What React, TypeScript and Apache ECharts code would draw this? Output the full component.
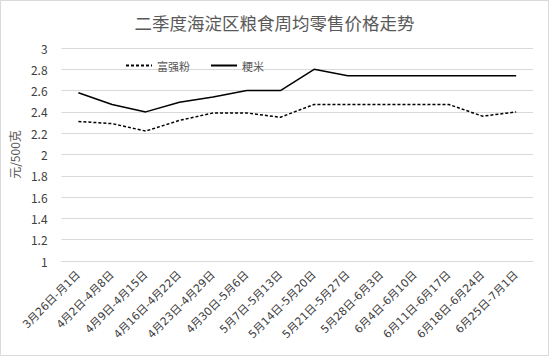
import React, { useEffect, useRef } from "react";
import * as echarts from "echarts";

const categories = [
  "3月26日-月1日",
  "4月2日-4月8日",
  "4月9日-4月15日",
  "4月16日-4月22日",
  "4月23日-4月29日",
  "4月30日-5月6日",
  "5月7日-5月13日",
  "5月14日-5月20日",
  "5月21日-5月27日",
  "5月28日-6月3日",
  "6月4日-6月10日",
  "6月11日-6月17日",
  "6月18日-6月24日",
  "6月25日-7月1日",
];
const flourValues = [2.31, 2.29, 2.22, 2.32, 2.39, 2.39, 2.35, 2.47, 2.47, 2.47, 2.47, 2.47, 2.36, 2.4];
const riceValues = [2.58, 2.47, 2.4, 2.49, 2.54, 2.6, 2.6, 2.8, 2.74, 2.74, 2.74, 2.74, 2.74, 2.74];
const seriesNames = ["富强粉", "粳米"];
const titleText = "二季度海淀区粮食周均零售价格走势";
const yAxisName = "元/500克";

const FONT = "'Noto Sans CJK SC', 'DejaVu Sans', sans-serif";
const LABEL_FONT = "'DejaVu Sans', 'Noto Sans CJK SC', sans-serif";

export default function App() {
  const ref = useRef<HTMLDivElement>(null);
  useEffect(() => {
    const chart = echarts.init(ref.current!, null, { renderer: "svg" });
    chart.setOption({
      animation: false,
      backgroundColor: "#ffffff",
      textStyle: { fontFamily: FONT },
      title: {
        text: titleText,
        left: "center",
        top: 9,
        textStyle: { fontSize: 17.5, fontWeight: "normal", color: "#595959", fontFamily: FONT },
      },
      legend: {
        left: 120,
        top: 55,
        itemWidth: 26,
        itemHeight: 10,
        itemGap: 20,
        itemStyle: { opacity: 0 },
        textStyle: { fontSize: 11, color: "#595959", fontFamily: FONT },
        data: seriesNames,
      },
      grid: { left: 60, right: 16, top: 48, bottom: 95 },
      xAxis: {
        type: "category",
        data: categories,
        boundaryGap: true,
        axisLine: { show: true, lineStyle: { color: "#d9d9d9" } },
        axisTick: { show: false },
        axisLabel: { rotate: 45, interval: 0, fontSize: 11, color: "#404040", margin: 12, fontFamily: LABEL_FONT },
      },
      yAxis: {
        type: "value",
        min: 1,
        max: 3,
        interval: 0.2,
        name: yAxisName,
        nameLocation: "middle",
        nameGap: 40,
        nameTextStyle: { fontSize: 12, color: "#595959", fontFamily: FONT },
        axisLine: { show: false },
        axisTick: { show: false },
        splitLine: { lineStyle: { color: "#d9d9d9" } },
        axisLabel: {
          fontSize: 12,
          color: "#404040",
          margin: 14,
          fontFamily: FONT,
          formatter: (v: number) => String(Math.round(v * 10) / 10),
        },
      },
      series: [
        {
          name: seriesNames[0],
          type: "line",
          data: flourValues,
          symbol: "none",
          lineStyle: { color: "#000000", width: 1.5, type: [3, 2] },
          itemStyle: { color: "#000000" },
        },
        {
          name: seriesNames[1],
          type: "line",
          data: riceValues,
          symbol: "none",
          lineStyle: { color: "#000000", width: 1.5 },
          itemStyle: { color: "#000000" },
        },
      ],
      graphic: [
        {
          type: "rect",
          shape: { x: 0.5, y: 0.5, width: 548, height: 355 },
          style: { fill: "none", stroke: "#d9d9d9", lineWidth: 1 },
          silent: true,
        },
      ],
    });
    return () => chart.dispose();
  }, []);
  return (
    <div
      ref={ref}
      style={{ position: "fixed", left: 0, top: 0, width: 549, height: 356 }}
    />
  );
}
